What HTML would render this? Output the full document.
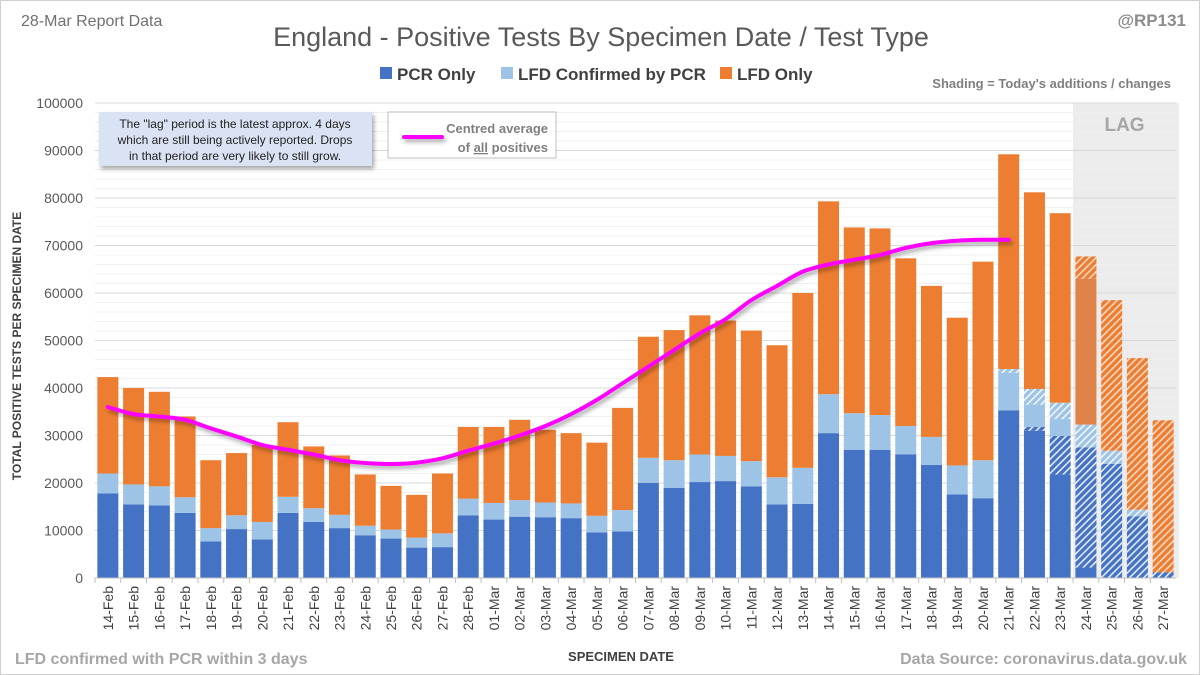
<!DOCTYPE html>
<html><head><meta charset="utf-8"><style>
body{margin:0;background:#fff}
#wrap{position:relative;width:1198px;height:673px;border:1px solid #d0d0d0;overflow:hidden;font-family:"Liberation Sans",sans-serif}
svg text{font-family:"Liberation Sans",sans-serif}
</style></head><body>
<div id="wrap">
<svg id="chart" width="1198" height="673">
<defs>
<pattern id="hb" width="5" height="5" patternUnits="userSpaceOnUse" patternTransform="rotate(45)"><rect width="5" height="5" fill="#4472c4"/><rect width="1.6" height="5" fill="#fff" opacity="0.85"/></pattern>
<pattern id="hl" width="5" height="5" patternUnits="userSpaceOnUse" patternTransform="rotate(45)"><rect width="5" height="5" fill="#9dc3e6"/><rect width="1.6" height="5" fill="#fff" opacity="0.85"/></pattern>
<pattern id="ho" width="5" height="5" patternUnits="userSpaceOnUse" patternTransform="rotate(45)"><rect width="5" height="5" fill="#ed7d31"/><rect width="1.6" height="5" fill="#fff" opacity="0.7"/></pattern>
<filter id="sh" filterUnits="userSpaceOnUse" x="0" y="0" width="1200" height="675"><feDropShadow dx="2" dy="3" stdDeviation="2" flood-color="#000" flood-opacity="0.35"/></filter>
</defs>
<g id="grid"></g><g id="bars"></g><g id="avg"></g><g id="axes"></g>
<text x="20" y="25" font-size="16" fill="#707070">28-Mar Report Data</text>
<text x="600" y="45" font-size="27" fill="#595959" text-anchor="middle">England - Positive Tests By Specimen Date / Test Type</text>
<text x="1185" y="25" font-size="17" font-weight="bold" fill="#8c8c8c" text-anchor="end">@RP131</text>
<g font-size="17" font-weight="bold" fill="#404040">
<rect x="379" y="66" width="12" height="12" fill="#4472c4"/><text x="396" y="79">PCR Only</text>
<rect x="500" y="66" width="12" height="12" fill="#9dc3e6"/><text x="517" y="79">LFD Confirmed by PCR</text>
<rect x="719" y="66" width="12" height="12" fill="#ed7d31"/><text x="736" y="79">LFD Only</text>
</g>
<text x="1170" y="87" font-size="13" font-weight="bold" fill="#7f7f7f" text-anchor="end">Shading = Today's additions / changes</text>
<g>
<rect x="98" y="111" width="273" height="54" fill="#dae3f3" filter="url(#sh)"/>
<text font-size="12" fill="#222" text-anchor="middle"><tspan x="234" y="127">The "lag" period is the latest approx. 4 days</tspan><tspan x="234" y="143">which are still being actively reported.  Drops</tspan><tspan x="234" y="159">in that period are very likely to still grow.</tspan></text>
</g>
<g>
<rect x="387" y="111" width="168" height="46" fill="#fff" stroke="#bfbfbf"/>
<rect x="401" y="134" width="42" height="4" rx="2" fill="#ff00ff" filter="url(#sh)"/>
<text font-size="13" font-weight="bold" fill="#7f7f7f" text-anchor="end"><tspan x="547" y="132">Centred average</tspan><tspan x="547" y="151">of <tspan text-decoration="underline">all</tspan> positives</tspan></text>
</g>
<text x="20" y="345" font-size="12" font-weight="bold" fill="#404040" text-anchor="middle" transform="rotate(-90 20 345)">TOTAL POSITIVE TESTS PER SPECIMEN DATE</text>
<text x="620" y="660" font-size="13" font-weight="bold" fill="#404040" text-anchor="middle">SPECIMEN DATE</text>
<text x="14" y="663" font-size="16" font-weight="bold" fill="#a6a6a6">LFD confirmed with PCR within 3 days</text>
<text x="1186" y="663" font-size="16" font-weight="bold" fill="#a6a6a6" text-anchor="end">Data Source: coronavirus.data.gov.uk</text>
</svg>
</div>
<script>
const dates=["14-Feb","15-Feb","16-Feb","17-Feb","18-Feb","19-Feb","20-Feb","21-Feb","22-Feb","23-Feb","24-Feb","25-Feb","26-Feb","27-Feb","28-Feb","01-Mar","02-Mar","03-Mar","04-Mar","05-Mar","06-Mar","07-Mar","08-Mar","09-Mar","10-Mar","11-Mar","12-Mar","13-Mar","14-Mar","15-Mar","16-Mar","17-Mar","18-Mar","19-Mar","20-Mar","21-Mar","22-Mar","23-Mar","24-Mar","25-Mar","26-Mar","27-Mar"];
const pcrOnly=[17800,15500,15300,13700,7700,10300,8100,13700,11800,10500,9000,8300,6400,6500,13200,12300,12900,12800,12600,9600,9800,20000,19000,20200,20400,19300,15500,15600,30500,27000,27000,26000,23800,17600,16800,35300,31800,29900,27500,24000,13000,1200];
const lfdConfirmed=[4200,4200,4000,3300,2800,2900,3700,3400,2900,2800,2000,1900,2100,2900,3500,3500,3500,3100,3100,3500,4500,5300,5800,5800,5300,5300,5700,7600,8200,7700,7300,6000,5900,6100,8000,8700,8000,7000,4800,2800,1400,0];
const lfdOnly=[20300,20300,19900,17000,14300,13100,16200,15700,13000,12500,10800,9200,9000,12600,15100,16000,16900,15300,14800,15400,21500,25500,27400,29300,28500,27500,27800,36800,40600,39100,39300,35300,31800,31100,41800,45200,41400,39900,35400,31700,31900,32000];
const prevPcr=[null,null,null,null,null,null,null,null,null,null,null,null,null,null,null,null,null,null,null,null,null,null,null,null,null,null,null,null,null,null,null,null,null,null,null,35300,31000,21800,2200,0,0,0];
const prevConf=[null,null,null,null,null,null,null,null,null,null,null,null,null,null,null,null,null,null,null,null,null,null,null,null,null,null,null,null,null,null,null,null,null,null,null,7900,4700,3600,0,0,0,0];
const prevLfd=[null,null,null,null,null,null,null,null,null,null,null,null,null,null,null,null,null,null,null,null,null,null,null,null,null,null,null,null,null,null,null,null,null,null,null,45200,41400,39900,30700,0,0,0];
const avgValues=[36000,34500,34000,33300,31500,29800,28000,27000,26000,24800,24200,24000,24300,25200,26800,28300,30000,32000,34500,37500,41000,44500,48000,51500,54500,58500,61500,64500,66000,67000,68000,69500,70500,71000,71200,71200];
const yTicks=[0,10000,20000,30000,40000,50000,60000,70000,80000,90000,100000];
const lagStart=38;

const NS="http://www.w3.org/2000/svg";
const L=94,R=1175,T=102,B=577,yMax=100000;
const band=(R-L)/dates.length, bw=21;
const y=v=>B-(v/yMax)*(B-T);
const xc=i=>L+band*(i+0.5);
function mk(tag,attrs,parent){const e=document.createElementNS(NS,tag);for(const k in attrs)e.setAttribute(k,attrs[k]);parent.appendChild(e);return e;}
const grid=document.getElementById('grid'),bars=document.getElementById('bars'),axes=document.getElementById('axes'),avg=document.getElementById('avg');
const lag=mk('rect',{x:L+band*lagStart,y:T,width:R-(L+band*lagStart)+3,height:B-T,fill:'#ececec'},grid);


for(let v=0;v<=yMax;v+=2000){if(v%10000)mk('line',{x1:L,x2:R,y1:y(v),y2:y(v),stroke:'#f0f0f0'},grid);}
yTicks.forEach(v=>{
 const g=mk('line',{x1:L,x2:R,y1:y(v),y2:y(v),stroke:'#d9d9d9'},grid);
 
 
 const t=mk('text',{x:82,y:y(v)+5,'font-size':14,fill:'#595959','text-anchor':'end'},axes);t.textContent=v;
 
 
});
const lt=mk('text',{x:(L+band*lagStart+R)/2,y:T+28,'font-size':19,'font-weight':'bold',fill:'#a6a6a6','text-anchor':'middle'},grid);lt.textContent='LAG';


mk('line',{x1:L,x2:R,y1:B,y2:B,stroke:'#bfbfbf'},axes);
function seg(i,lo,hi,prev,solid,hatch,name){
 if(hi<=lo)return;
 const x=xc(i)-bw/2;
 let split=(prev===null)?hi:Math.min(hi,Math.max(lo,lo+prev));
 if(prev!==null&&prev<=0)split=lo;
 if(split>lo){const r=mk('rect',{x:x,y:y(split),width:bw,height:y(lo)-y(split),fill:solid},bars);
  
  }
 if(hi>split){const r=mk('rect',{x:x,y:y(hi),width:bw,height:y(split)-y(hi),fill:hatch},bars);
  
  }
}
dates.forEach((d,i)=>{
 const a=pcrOnly[i],b=a+lfdConfirmed[i],c=b+lfdOnly[i];
 seg(i,0,a,prevPcr[i],'#4472c4','url(#hb)','bar-pcr-only');
 seg(i,a,b,prevConf[i],'#9dc3e6','url(#hl)','bar-lfd-confirmed');
 seg(i,b,c,prevLfd[i],i>=lagStart?'#e0834a':'#ed7d31','url(#ho)','bar-lfd-only');
 mk('line',{x1:L+band*i,x2:L+band*i,y1:B,y2:B+5,stroke:'#bfbfbf'},axes);
 const tx=xc(i)+5,ty=B+8;
 const t=mk('text',{x:tx,y:ty,'font-size':14,fill:'#404040','text-anchor':'end',transform:`rotate(-90 ${tx} ${ty})`},axes);t.textContent=d;
 
 
});
const pts=avgValues.map((v,i)=>[xc(i),y(v)]);
let dpath=`M${pts[0][0]},${pts[0][1]}`;
for(let i=0;i<pts.length-1;i++){const p0=pts[Math.max(0,i-1)],p1=pts[i],p2=pts[i+1],p3=pts[Math.min(pts.length-1,i+2)];
 dpath+=` C${p1[0]+(p2[0]-p0[0])/6},${p1[1]+(p2[1]-p0[1])/6} ${p2[0]-(p3[0]-p1[0])/6},${p2[1]-(p3[1]-p1[1])/6} ${p2[0]},${p2[1]}`;}
const ln=mk('path',{d:dpath,fill:'none',stroke:'#ff00ff','stroke-width':4,'stroke-linecap':'round',filter:'url(#sh)'},avg);


</script>
</body></html>
